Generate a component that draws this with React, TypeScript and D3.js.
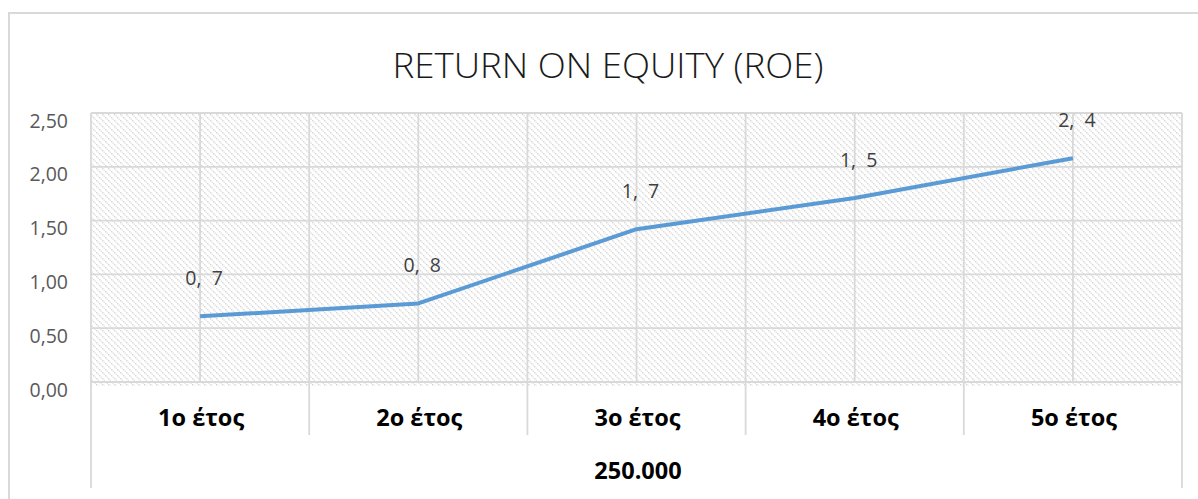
import React from "react";
import * as d3 from "d3";

const categories = ["1ο έτος", "2ο έτος", "3ο έτος", "4ο έτος", "5ο έτος"];
const roeValues = [0.61, 0.73, 1.42, 1.71, 2.08];
const pointLabels = ["0,  7", "0,  8", "1,  7", "1,  5", "2,  4"];
const yTicks = [0, 0.5, 1, 1.5, 2, 2.5];
const groupLabel = "250.000";
const title = "RETURN ON EQUITY (ROE)";

const W = 1198;
const H = 499;
const margin = { top: 113, right: 16, left: 91 };
const plotBottom = 382;
const grid = "#d9d9d9";
const font = "'Open Sans', 'DejaVu Sans', sans-serif";

const fmt = (v: number) => d3.format(".2f")(v).replace(".", ",");

export default function App() {
  const x = d3
    .scaleBand<string>()
    .domain(categories)
    .range([margin.left, W - margin.right])
    .padding(0);
  const y = d3.scaleLinear().domain([0, 2.5]).range([plotBottom, margin.top]);
  const bw = x.bandwidth();
  const cx = (c: string) => (x(c) as number) + bw / 2;

  const line = d3
    .line<number>()
    .x((_, i) => cx(categories[i]))
    .y((d) => y(d));

  // vertical gridlines at band edges and band centres
  const vLines: number[] = [];
  categories.forEach((c) => {
    vLines.push(x(c) as number, cx(c));
  });
  vLines.push(W - margin.right);

  const left = margin.left;
  const right = W - margin.right;

  return (
    <div style={{ position: "absolute", left: 0, top: 0 }}>
      <svg width={W} height={H} style={{ display: "block", background: "#fff" }}>
        <defs>
          <pattern id="dots" width="6" height="6" patternUnits="userSpaceOnUse">
            <rect width="6" height="6" fill="#fff" />
            <rect x="0" y="0" width="1.4" height="1.4" fill="#d6d6d6" />
            <rect x="1.5" y="1.5" width="1.4" height="1.4" fill="#e2e2e2" />
            <rect x="3" y="3" width="1.4" height="1.4" fill="#d6d6d6" />
            <rect x="4.5" y="4.5" width="1.4" height="1.4" fill="#e2e2e2" />
          </pattern>
        </defs>

        {/* outer chart border */}
        <path d={`M9,${H} V13 H${W}`} fill="none" stroke={grid} strokeWidth={2} />

        <text
          x={608}
          y={78}
          textAnchor="middle"
          fontFamily={font}
          fontWeight={300}
          fontSize={35}
          fill="#1a1a1a"
          textLength={431}
          lengthAdjust="spacingAndGlyphs"
        >
          {title}
        </text>

        {/* plot area */}
        <rect x={left} y={margin.top} width={right - left} height={plotBottom + 4 - margin.top} fill="url(#dots)" />
        {yTicks.map((t) => (
          <line key={t} x1={left} x2={right} y1={y(t)} y2={y(t)} stroke={grid} strokeWidth={1.8} />
        ))}
        {vLines.map((v, i) => (
          <line key={i} x1={v} x2={v} y1={margin.top} y2={plotBottom} stroke={grid} strokeWidth={1.8} />
        ))}

        {/* y axis labels */}
        {yTicks.map((t) => (
          <text
            key={t}
            x={68}
            y={y(t) + 7}
            textAnchor="end"
            dominantBaseline="central"
            fontFamily={font}
            fontSize={19.5}
            fill="#595959"
          >
            {fmt(t)}
          </text>
        ))}

        {/* category axis (two levels) */}
        {categories.slice(1).map((c) => (
          <line key={c} x1={x(c) as number} x2={x(c) as number} y1={plotBottom} y2={435} stroke={grid} strokeWidth={1.8} />
        ))}
        <line x1={left} x2={left} y1={plotBottom} y2={488} stroke={grid} strokeWidth={1.8} />
        <line x1={right} x2={right} y1={plotBottom} y2={488} stroke={grid} strokeWidth={1.8} />
        {categories.map((c) => (
          <text
            key={c}
            x={cx(c) + 1}
            y={417}
            textAnchor="middle"
            dominantBaseline="central"
            fontFamily={font}
            fontWeight={700}
            fontSize={23.5}
            fill="#000"
          >
            {c}
          </text>
        ))}
        <text
          x={638}
          y={470}
          textAnchor="middle"
          dominantBaseline="central"
          fontFamily={font}
          fontWeight={700}
          fontSize={23.5}
          fill="#000"
        >
          {groupLabel}
        </text>

        {/* series */}
        <path d={line(roeValues) as string} fill="none" stroke="#5b9bd5" strokeWidth={4} strokeLinejoin="round" />
        {roeValues.map((v, i) => (
          <text
            key={i}
            x={cx(categories[i]) + 4}
            y={y(v) - 31}
            textAnchor="middle"
            fontFamily={font}
            fontSize={19.5}
            fill="#404040"
            style={{ whiteSpace: "pre" }}
          >
            {pointLabels[i]}
          </text>
        ))}
      </svg>
    </div>
  );
}
